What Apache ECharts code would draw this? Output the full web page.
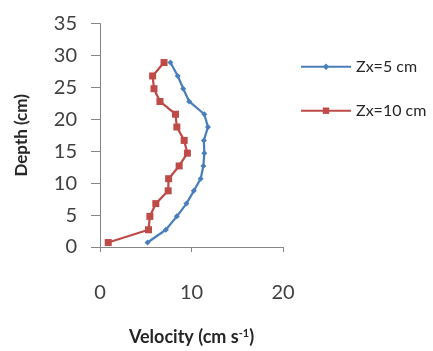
<!DOCTYPE html>
<html>
<head>
<meta charset="utf-8">
<script src="https://cdn.jsdelivr.net/npm/echarts@6/dist/echarts.min.js"></script>
<style>html,body{margin:0;padding:0;background:#fff;}#c{width:433px;height:351px;}</style>
</head>
<body>
<div id="c"></div>
<script>
var depths = [0.7, 2.7, 4.8, 6.8, 8.8, 10.7, 12.7, 14.7, 16.7, 18.8, 20.8, 22.8, 24.8, 26.8, 28.9];
var velZx5 = [5.2, 7.2, 8.4, 9.45, 10.25, 11.0, 11.3, 11.4, 11.35, 11.8, 11.4, 9.75, 9.1, 8.5, 7.7];
var velZx10 = [0.9, 5.3, 5.45, 6.1, 7.45, 7.5, 8.65, 9.55, 9.2, 8.4, 8.25, 6.55, 5.9, 5.75, 7.0];
var seriesNames = ['Zx=5 cm', 'Zx=10 cm'];

function pairs(v) { return v.map(function (x, i) { return [x, depths[i]]; }); }

var font = 'Lato, "Open Sans", sans-serif';
var chart = echarts.init(document.getElementById('c'));
chart.setOption({
  animation: false,
  backgroundColor: '#fff',
  grid: { left: 100, right: 150, top: 23.6, bottom: 95.3, containLabel: false },
  legend: {
    orient: 'vertical', left: 300, top: 58.7, padding: 0, itemWidth: 50, itemHeight: 8, itemGap: 28,
    textStyle: { fontFamily: font, fontSize: 16, lineHeight: 16, color: '#262626' },
    data: seriesNames
  },
  xAxis: {
    type: 'value', min: 0, max: 20, interval: 10,
    name: '{a|Velocity (cm s}{s|-1}{a|)}', nameLocation: 'middle', nameGap: 81,
    nameTextStyle: {
      rich: {
        a: { fontFamily: font, fontSize: 18, fontWeight: 'bold', color: '#262626' },
        s: { fontFamily: font, fontSize: 11, fontWeight: 'bold', color: '#262626', verticalAlign: 'top', padding: [0, 0, 7, 0] }
      }
    },
    axisLine: { show: true, lineStyle: { color: '#868686', width: 1 } },
    axisTick: { show: true, inside: false, length: 5, lineStyle: { color: '#868686' } },
    axisLabel: { fontFamily: font, fontSize: 20, color: '#404040', margin: 36 },
    splitLine: { show: false }
  },
  yAxis: {
    type: 'value', min: 0, max: 35, interval: 5,
    name: 'Depth (cm)', nameLocation: 'middle', nameGap: 70, nameRotate: 90,
    nameTextStyle: { fontFamily: font, fontSize: 17, fontWeight: 'bold', color: '#262626' },
    axisLine: { show: true, lineStyle: { color: '#868686', width: 1 } },
    axisTick: { show: true, inside: false, length: 9, lineStyle: { color: '#868686' } },
    axisLabel: { fontFamily: font, fontSize: 20, color: '#404040', margin: 23 },
    splitLine: { show: false }
  },
  series: [
    {
      name: seriesNames[0], type: 'line', data: pairs(velZx5),
      symbol: 'diamond', symbolSize: 6,
      lineStyle: { color: '#4a7ebb', width: 2.25 },
      itemStyle: { color: '#4a7ebb' }
    },
    {
      name: seriesNames[1], type: 'line', data: pairs(velZx10),
      symbol: 'rect', symbolSize: 7,
      lineStyle: { color: '#be4b48', width: 2.25 },
      itemStyle: { color: '#be4b48' }
    }
  ]
});
</script>
</body>
</html>
